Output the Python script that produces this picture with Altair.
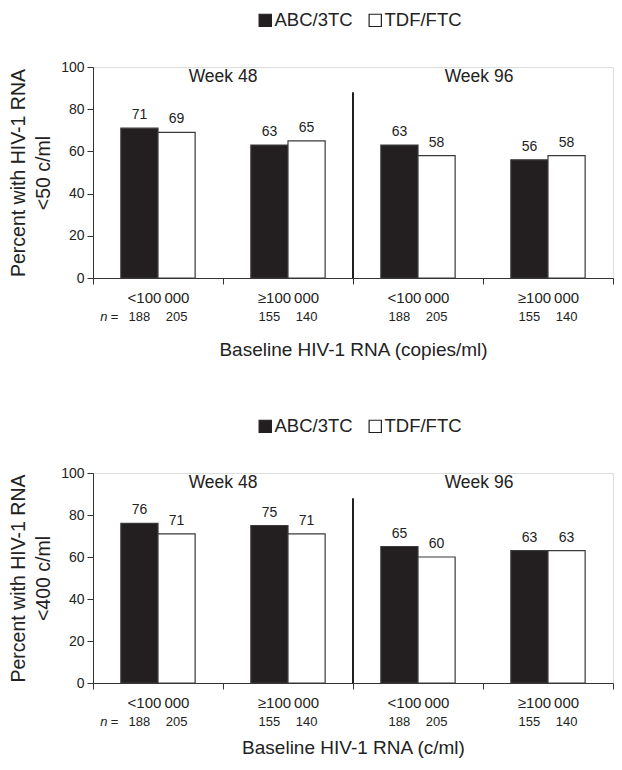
import altair as alt
import pandas as pd

# ---------------- data ----------------
arms = ["ABC/3TC", "TDF/FTC"]
groups = ["48|<100\u2009000", "48|\u2265100\u2009000", "96|<100\u2009000", "96|\u2265100\u2009000"]
abc_50 = [71, 63, 63, 56]
tdf_50 = [69, 65, 58, 58]
abc_400 = [76, 75, 65, 63]
tdf_400 = [71, 71, 60, 63]
n_abc = [188, 155, 188, 155]
n_tdf = [205, 140, 205, 140]
weeks = ["Week 48", "Week 96"]
week_groups = [groups[1], groups[3]]
divider_group = groups[2]
divider_bottom = 0
divider_top = 88

FONT = "Liberation Sans"
BLACK = "#231f20"


def make_df(abc, tdf):
    rows = []
    for i, g in enumerate(groups):
        rows.append({"group": g, "arm": arms[0], "value": abc[i], "n": n_abc[i], "zero": 0})
        rows.append({"group": g, "arm": arms[1], "value": tdf[i], "n": n_tdf[i], "zero": 0})
    return pd.DataFrame(rows)


def panel(abc, tdf, ytitle, xtitle, height, xtitle_pad):
    df = make_df(abc, tdf)
    xscale = alt.Scale(domain=groups, paddingInner=0, paddingOuter=0)
    offs = alt.XOffset("arm:N", scale=alt.Scale(domain=arms, paddingInner=0, paddingOuter=0.75))
    yscale = alt.Scale(domain=[0, 100])

    base = alt.Chart(df)
    bars = base.mark_bar(stroke="#3a3a3a", strokeWidth=1.2).encode(
        x=alt.X("group:N", scale=xscale,
                axis=alt.Axis(title=xtitle, labelExpr="split(datum.value,'|')[1]",
                              tickBand="extent", labelAngle=0, labelFontSize=15,
                              labelPadding=6, titleFontSize=19, titleFontWeight="normal",
                              titlePadding=xtitle_pad, tickSize=6, domainColor="#333",
                              tickColor="#333", labelColor="#222", titleColor="#222")),
        xOffset=offs,
        y=alt.Y("value:Q", scale=yscale,
                axis=alt.Axis(title=ytitle, values=[0, 20, 40, 60, 80, 100], tickSize=6,
                              labelFontSize=14, labelPadding=3, titleFontSize=19.5,
                              titleFontWeight="normal", titlePadding=7, titleLineHeight=25,
                              domainColor="#333", tickColor="#333", labelColor="#222",
                              titleColor="#222", grid=False)),
        color=alt.Color("arm:N", scale=alt.Scale(domain=arms, range=[BLACK, "#ffffff"]),
                        legend=alt.Legend(orient="none", legendX=163, legendY=-56,
                                          direction="horizontal", title=None,
                                          symbolType="square", symbolSize=150,
                                          symbolStrokeColor=BLACK, symbolStrokeWidth=1.2,
                                          labelFontSize=18.5, labelFont=FONT, labelColor="#222",
                                          columnPadding=13, labelOffset=0)),
    )
    vals = base.mark_text(baseline="bottom", dy=-6, fontSize=14, font=FONT, color="#222").encode(
        x=alt.X("group:N", scale=xscale), xOffset=offs,
        y=alt.Y("value:Q", scale=yscale), text="value:Q",
    )
    nlab = base.mark_text(baseline="middle", dy=39, fontSize=13, font=FONT, color="#222").encode(
        x=alt.X("group:N", scale=xscale), xOffset=offs,
        y=alt.Y("zero:Q", scale=yscale), text="n:Q",
    )
    first = df.iloc[[0]]
    eq = alt.Chart(first).mark_text(baseline="middle", align="right", dx=-21, dy=39,
                                   fontSize=13, font=FONT, color="#222", text="=").encode(
        x=alt.X("group:N", scale=xscale), xOffset=offs, y=alt.Y("zero:Q", scale=yscale))
    nn = alt.Chart(first).mark_text(baseline="middle", align="right", dx=-32, dy=39,
                                   fontSize=13, font=FONT, fontStyle="italic", color="#222",
                                   text="n").encode(
        x=alt.X("group:N", scale=xscale), xOffset=offs, y=alt.Y("zero:Q", scale=yscale))

    wk = pd.DataFrame({"group": week_groups, "label": weeks, "top": [100, 100]})
    week_enc = dict(x=alt.X("group:N", scale=xscale, bandPosition=0),
                    y=alt.Y("top:Q", scale=yscale), text="label:N")
    week48 = alt.Chart(wk).transform_filter(alt.datum.label == weeks[0]).mark_text(
        baseline="middle", dy=10, dx=0, fontSize=17.5, font=FONT, color="#222").encode(**week_enc)
    week96 = alt.Chart(wk).transform_filter(alt.datum.label == weeks[1]).mark_text(
        baseline="middle", dy=10, dx=-4, fontSize=17.5, font=FONT, color="#222").encode(**week_enc)

    dv = pd.DataFrame({"group": [divider_group], "bottom": [divider_bottom], "top": [divider_top]})
    divider = alt.Chart(dv).mark_rule(strokeWidth=2, color=BLACK).encode(
        x=alt.X("group:N", scale=xscale, bandPosition=0),
        y=alt.Y("bottom:Q", scale=yscale), y2="top:Q")

    return alt.layer(bars, vals, nlab, eq, nn, week48, week96, divider).properties(
        width=520, height=height)


top = panel(abc_50, tdf_50, ["Percent with HIV-1 RNA", "<50 c/ml"],
            "Baseline HIV-1 RNA (copies/ml)", 211, 35)
bottom = panel(abc_400, tdf_400, ["Percent with HIV-1 RNA", "<400 c/ml"],
               "Baseline HIV-1 RNA (c/ml)", 210, 28)

chart = alt.vconcat(top, bottom, spacing=56).resolve_scale(color="independent").configure_view(
    stroke=None).configure(font=FONT).properties(padding={"left": 0, "top": 2, "right": 0, "bottom": 0})

chart.save("out.html", embed_options={"renderer": "svg", "actions": False})
